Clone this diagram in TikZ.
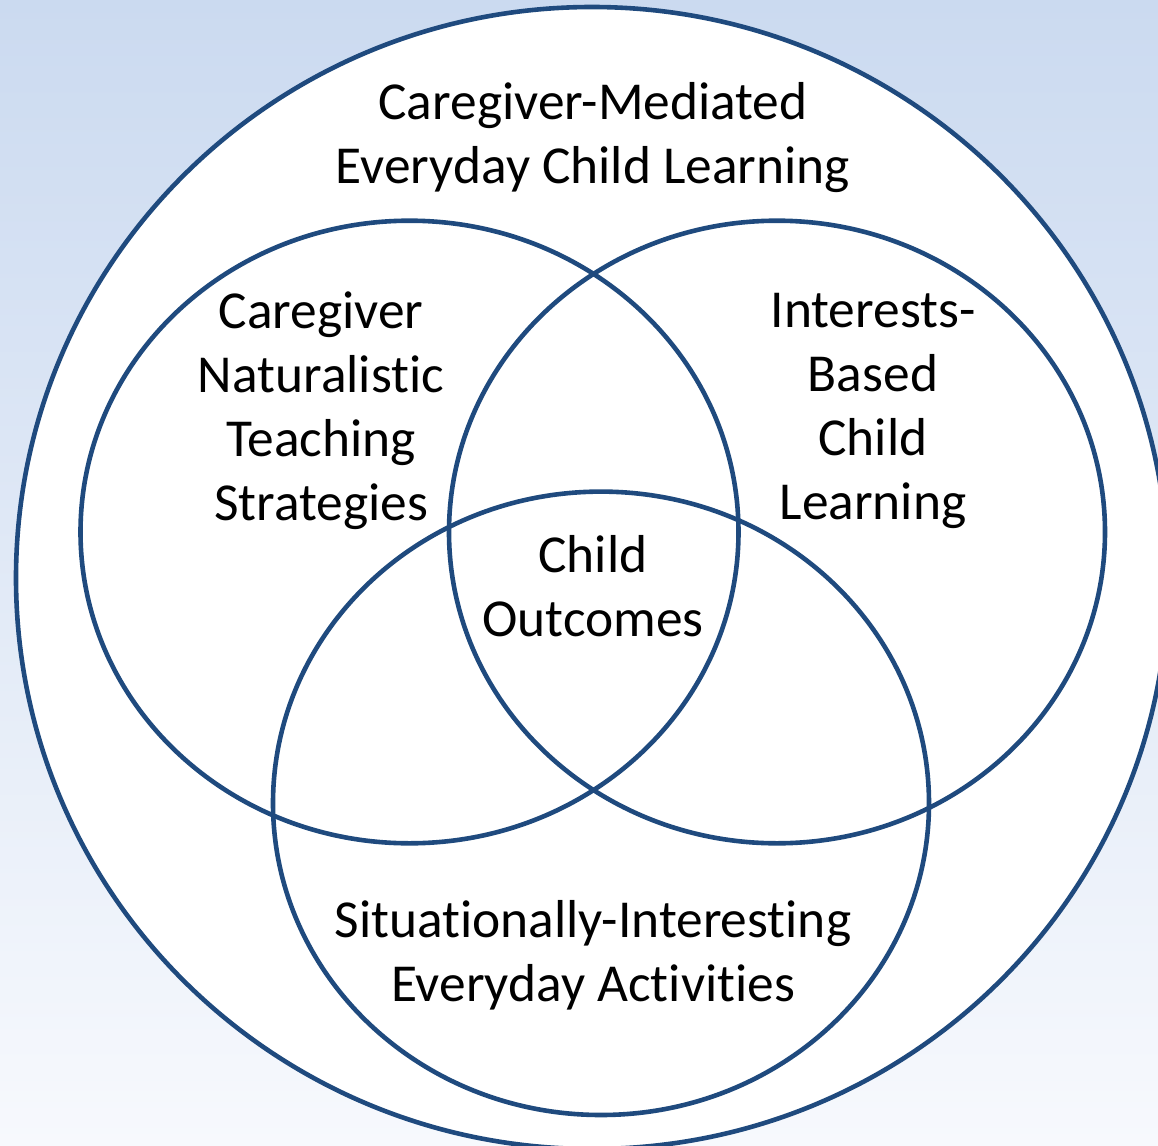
\documentclass[tikz,border=0pt]{standalone}
\usepackage{fontspec}
\setmainfont{Carlito}[RawFeature={-liga;-clig;-dlig}]
\definecolor{ring}{RGB}{31,74,126}
\definecolor{bgtop}{RGB}{203,218,240}
\definecolor{bgbot}{RGB}{247,249,253}
\begin{document}
\begin{tikzpicture}[x=0.5pt,y=-0.5pt,
  ringline/.style={draw=ring,line width=2.3pt},
  lbl/.style={align=center,font=\fontsize{26.7}{32}\selectfont,inner sep=0pt}]
\useasboundingbox (0,0) rectangle (1158,1146);
\clip (0,0) rectangle (1158,1146);
\shade[top color=bgtop,bottom color=bgbot] (0,0) rectangle (1158,1146);
\path[ringline,fill=white] (592,578) ellipse [x radius=576,y radius=571];
\path[ringline] (409.5,532) ellipse [x radius=329,y radius=311.3];
\path[ringline] (777,532) ellipse [x radius=328,y radius=311.3];
\path[ringline] (601,803.3) ellipse [x radius=328,y radius=311.7];
\node[lbl] (outer) at (593,138) {Caregiver-Mediated\\Everyday Child Learning};
\node[lbl] (left) at (321,411) {Caregiver\\Naturalistic\\Teaching\\Strategies};
\node[lbl] (right) at (873,411) {Interests-\\Based\\Child\\Learning};
\node[lbl] (center) at (593,586) {Child\\Outcomes};
\node[lbl] (bottom) at (593,955) {Situationally-Interesting\\Everyday Activities};
\end{tikzpicture}
\end{document}
